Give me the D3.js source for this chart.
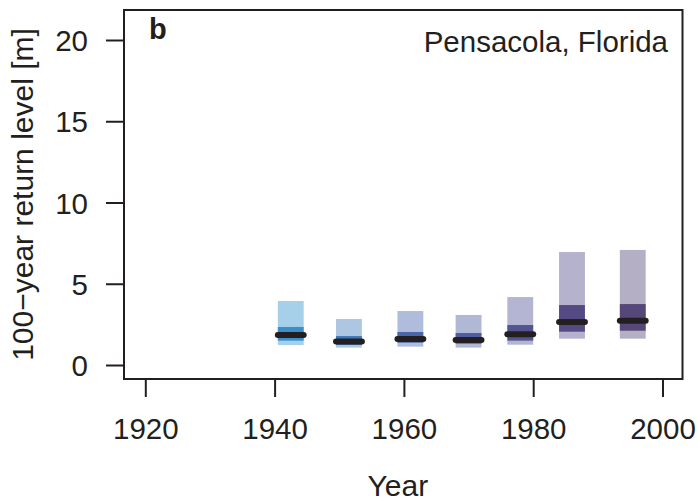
<!DOCTYPE html>
<html>
<head>
<meta charset="utf-8">
<script src="https://cdn.jsdelivr.net/npm/d3@7/dist/d3.min.js"></script>
<style>
  html, body { margin: 0; padding: 0; background: #fff; }
  svg text { font-family: "Liberation Sans", Arial, Helvetica, sans-serif; fill: #231f20; }
</style>
</head>
<body>
<svg id="chart" width="697" height="502"></svg>
<script>
// Period midpoints (years) and 100-year return level estimates [m]
const periods   = [1942.5, 1951.5, 1961, 1970, 1978, 1986, 1995.4];
const outerLow  = [1.23, 1.07, 1.13, 1.07, 1.25, 1.62, 1.62];
const outerHigh = [3.94, 2.83, 3.32, 3.08, 4.18, 6.95, 7.08];
const innerLow  = [1.50, 1.23, 1.37, 1.31, 1.50, 2.05, 2.11];
const innerHigh = [2.34, 1.78, 2.03, 1.97, 2.46, 3.69, 3.75];
const medians   = [1.85, 1.44, 1.60, 1.54, 1.89, 2.65, 2.73];
const outerColors = ["#a6cfe9", "#adc7e3", "#afbcdb", "#b1b8d6", "#b3b5d2", "#b4b2cc", "#b5afc6"];
const innerColors = ["#3a8fcb", "#3c76b8", "#4966a9", "#4e5e9e", "#525590", "#554b82", "#554778"];
const xTicks = [1920, 1940, 1960, 1980, 2000];
const yTicks = [0, 5, 10, 15, 20];

const ink = "#231f20";
const svg = d3.select("#chart");

const x = d3.scaleLinear().domain([1920, 2000]).range([145.3, 662.5]);
const y = d3.scaleLinear().domain([0, 20]).range([365, 40]);

const box = { left: 124, right: 682.5, top: 10, bottom: 379 };
const barHalf = 2; // years on each side of the period midpoint

const data = periods.map((p, i) => ({
  p, lo: outerLow[i], hi: outerHigh[i], ilo: innerLow[i], ihi: innerHigh[i],
  med: medians[i], oc: outerColors[i], ic: innerColors[i]
}));

// outer (wide) intervals
svg.append("g").selectAll("rect").data(data).join("rect")
  .attr("x", d => x(d.p - barHalf))
  .attr("width", d => x(d.p + barHalf) - x(d.p - barHalf))
  .attr("y", d => y(d.hi))
  .attr("height", d => y(d.lo) - y(d.hi))
  .attr("fill", d => d.oc);

// inner (narrow) intervals
svg.append("g").selectAll("rect").data(data).join("rect")
  .attr("x", d => x(d.p - barHalf))
  .attr("width", d => x(d.p + barHalf) - x(d.p - barHalf))
  .attr("y", d => y(d.ihi))
  .attr("height", d => y(d.ilo) - y(d.ihi))
  .attr("fill", d => d.ic);

// median estimates
svg.append("g").selectAll("line").data(data).join("line")
  .attr("x1", d => x(d.p - barHalf))
  .attr("x2", d => x(d.p + barHalf))
  .attr("y1", d => y(d.med))
  .attr("y2", d => y(d.med))
  .attr("stroke", ink)
  .attr("stroke-width", 6)
  .attr("stroke-linecap", "round");

// frame
svg.append("rect")
  .attr("x", box.left).attr("y", box.top)
  .attr("width", box.right - box.left).attr("height", box.bottom - box.top)
  .attr("fill", "none").attr("stroke", ink).attr("stroke-width", 2);

// axes
const xAxis = svg.append("g")
  .attr("transform", `translate(0,${box.bottom})`)
  .call(d3.axisBottom(x).tickValues(xTicks).tickFormat(d3.format("d")).tickSize(18).tickPadding(21));
const yAxis = svg.append("g")
  .attr("transform", `translate(${box.left},0)`)
  .call(d3.axisLeft(y).tickValues(yTicks).tickSize(18).tickPadding(18));

[xAxis, yAxis].forEach(g => {
  g.select(".domain").remove();
  g.selectAll(".tick line").attr("stroke", ink).attr("stroke-width", 2);
  g.selectAll(".tick text").attr("font-size", 29.5).attr("fill", ink)
    .style("font-family", "'Liberation Sans', Arial, sans-serif");
});
xAxis.selectAll(".tick text").attr("dy", "0.71em");
yAxis.selectAll(".tick text").attr("dy", "0.36em");

// axis titles
svg.append("text")
  .attr("x", x(1960) - 6)
  .attr("y", 496)
  .attr("text-anchor", "middle")
  .attr("font-size", 30)
  .text("Year");

svg.append("text")
  .attr("transform", `translate(33,${y(10) - 8}) rotate(-90)`)
  .attr("text-anchor", "middle")
  .attr("font-size", 30)
  .text("100\u2212year return level [m]");

// panel tag and location
svg.append("text")
  .attr("x", 149)
  .attr("y", 39)
  .attr("font-size", 29)
  .attr("font-weight", "bold")
  .text("b");

svg.append("text")
  .attr("x", 668)
  .attr("y", 52)
  .attr("text-anchor", "end")
  .attr("font-size", 29.5)
  .text("Pensacola, Florida");
</script>
</body>
</html>
